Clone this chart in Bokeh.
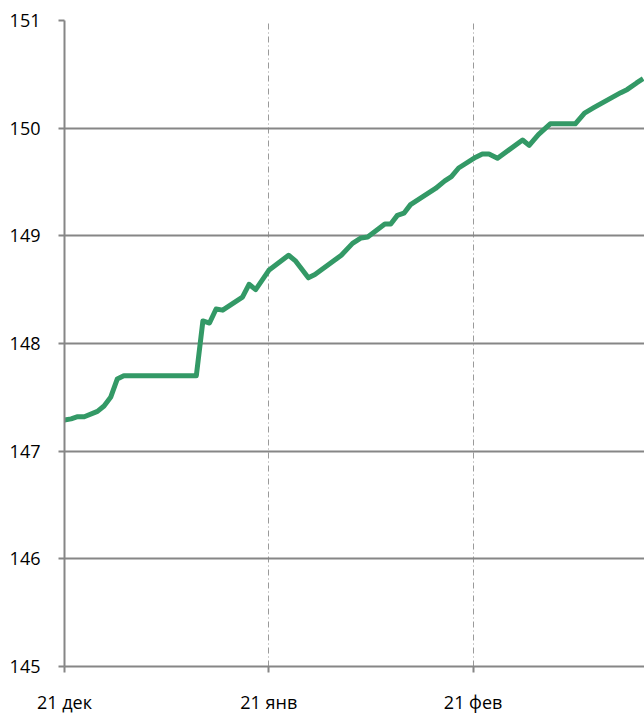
import pandas as pd
from bokeh.plotting import figure
from bokeh.models import FixedTicker, Range1d
from bokeh.embed import file_html
from bokeh.resources import INLINE

start = pd.Timestamp("2020-12-21")
day_offsets = [0, 1, 2, 3, 5, 6, 7, 8, 9, 20, 21, 22, 23, 24, 27, 28, 29, 31, 34, 35,
               37, 38, 42, 43.7, 45, 46, 48.6, 49.5, 50.5, 51.5, 52.5, 56.3, 57.7, 58.7,
               59.8, 62.4, 63.4, 64.4, 65.7, 69.5, 70.5, 71.9, 73.7, 77.5, 78.9, 80.3,
               84.4, 85.4, 86.8, 87.8]
values = [147.29, 147.30, 147.32, 147.32, 147.37, 147.42, 147.50, 147.67, 147.70, 147.70,
          148.21, 148.19, 148.32, 148.31, 148.43, 148.55, 148.50, 148.68, 148.82, 148.77,
          148.61, 148.64, 148.82, 148.93, 148.98, 148.99, 149.11, 149.11, 149.19, 149.21,
          149.29, 149.44, 149.51, 149.55, 149.63, 149.73, 149.76, 149.76, 149.72, 149.89,
          149.84, 149.94, 150.04, 150.04, 150.14, 150.19, 150.33, 150.36, 150.42, 150.46]
dates = [start + pd.Timedelta(days=d) for d in day_offsets]

tick_dates = ["2020-12-21", "2021-01-21", "2021-02-21"]
tick_labels = ["21 дек", "21 янв", "21 фев"]
y_ticks = [145, 146, 147, 148, 149, 150, 151]

def ms(ts):
    return pd.Timestamp(ts).value / 1e6

x_start = ms(start)
x_end = ms(start + pd.Timedelta(days=88))

p = figure(width=644, height=716, x_axis_type="datetime",
           output_backend="svg", toolbar_location=None,
           x_range=Range1d(x_start, x_end), y_range=Range1d(145, 151),
           min_border_left=64, min_border_top=20, min_border_right=0,
           min_border_bottom=50)
p.outline_line_color = None
p.background_fill_color = "white"

p.line(dates, values, line_color="#339966", line_width=5, line_join="round")

font = "Open Sans"
xt = [ms(t) for t in tick_dates]
p.xaxis.ticker = FixedTicker(ticks=xt)
p.xaxis.major_label_overrides = {v: l for v, l in zip(xt, tick_labels)}
p.yaxis.ticker = FixedTicker(ticks=y_ticks)

for ax in (p.xaxis[0], p.yaxis[0]):
    ax.axis_line_color = "#868686"
    ax.axis_line_width = 2
    ax.major_tick_line_color = "#868686"
    ax.major_tick_line_width = 2
    ax.major_tick_out = 6
    ax.major_tick_in = 0
    ax.minor_tick_line_color = None
    ax.major_label_text_font = font
    ax.major_label_text_font_size = "18px"
    ax.major_label_text_color = "#000000"

p.xaxis.major_label_standoff = 17
p.yaxis.major_label_standoff = 18

p.ygrid.grid_line_color = "#868686"
p.ygrid.grid_line_width = 2
p.xgrid.grid_line_color = "#9a9a9a"
p.xgrid.grid_line_width = 1
p.xgrid.grid_line_dash = "6 3 1 3"

open("out.html", "w").write(file_html(p, INLINE))
